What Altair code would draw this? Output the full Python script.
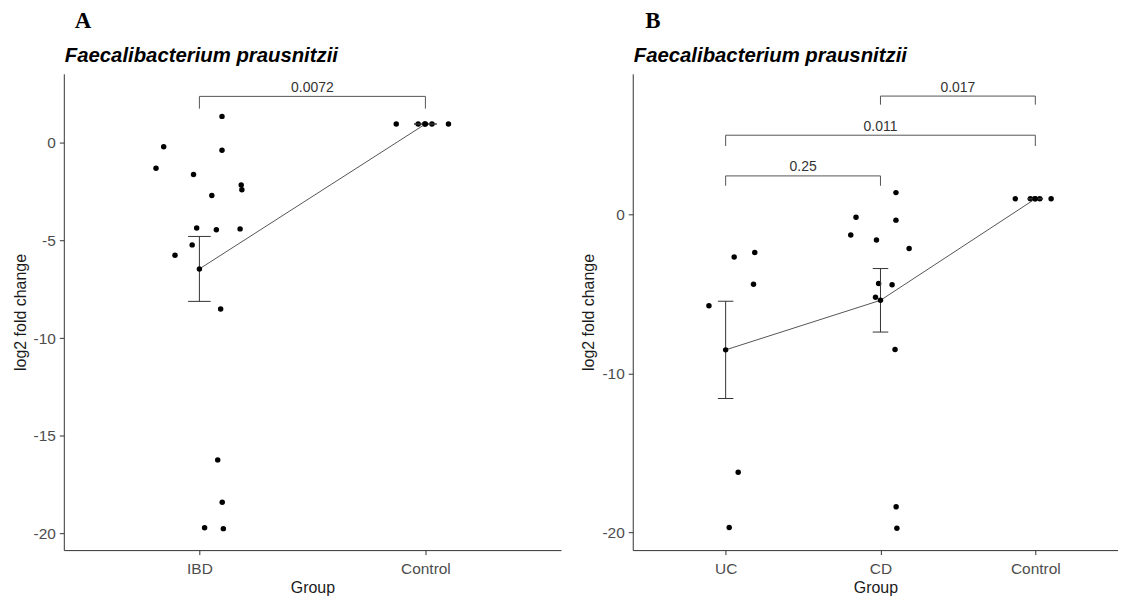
import altair as alt
import pandas as pd

# ---------------- data ----------------
cd_values = [1.36, -0.19, -0.37, -1.30, -1.62, -2.15, -4.36, -4.44, -5.22, -8.50, -18.40, -19.75]
cd_jitter = [0.100, -0.158, 0.100, -0.192, -0.026, 0.185, -0.012, 0.075, -0.032, 0.094, 0.101, 0.106]
uc_values = [-2.40, -2.69, -4.40, -5.75, -16.23, -19.70]
uc_jitter = [0.188, 0.055, 0.180, -0.108, 0.081, 0.023]
control_values = [0.97, 0.97, 0.97, 0.97, 0.97]
control_jitter = [-0.129, -0.032, -0.003, 0.029, 0.102]

groups_a = ["IBD", "Control"]
groups_b = ["UC", "CD", "Control"]

# p-value brackets
bracket_a_from = ["IBD"]
bracket_a_to = ["Control"]
bracket_a_label = ["0.0072"]
bracket_a_level = [2.385]
bracket_a_tip = [1.757]

bracket_b_from = ["UC", "UC", "CD"]
bracket_b_to = ["CD", "Control", "Control"]
bracket_b_label = ["0.25", "0.011", "0.017"]
bracket_b_level = [2.41, 4.97, 7.43]
bracket_b_tip = [1.79, 4.29, 6.89]

y_ticks_a = [-20, -15, -10, -5, 0]
y_ticks_b = [-20, -10, 0]

species = "Faecalibacterium prausnitzii"
FONT = "Liberation Sans"


def points_frame(assign):
    rows = []
    for name, vals, jit in assign:
        for v, j in zip(vals, jit):
            rows.append({"group": name, "value": v, "jit": j})
    return pd.DataFrame(rows)


df_a = points_frame([("IBD", cd_values, cd_jitter), ("IBD", uc_values, uc_jitter),
                     ("Control", control_values, control_jitter)])
df_a["pos"] = df_a["group"].map({g: i + 1 for i, g in enumerate(groups_a)})

df_b = points_frame([("UC", uc_values, uc_jitter), ("CD", cd_values, cd_jitter),
                     ("Control", control_values, control_jitter)])
df_b["pos"] = df_b["group"].map({g: i + 1 for i, g in enumerate(groups_b)})


def bracket_frame(cats, f, t, lab, lev, tip):
    d = pd.DataFrame({"from": f, "to": t, "label": lab, "level": lev, "tip": tip})
    d["x1"] = d["from"].map({g: i + 1 for i, g in enumerate(cats)})
    d["x2"] = d["to"].map({g: i + 1 for i, g in enumerate(cats)})
    d["xm"] = (d["x1"] + d["x2"]) / 2
    return d


br_a = bracket_frame(groups_a, bracket_a_from, bracket_a_to, bracket_a_label, bracket_a_level, bracket_a_tip)
br_b = bracket_frame(groups_b, bracket_b_from, bracket_b_to, bracket_b_label, bracket_b_level, bracket_b_tip)


def panel(df, br, cats, xmax, ydom, yticks, width, height, letter, letter_dx):
    xs = alt.Scale(domain=[0.4, xmax], nice=False, zero=False)
    ys = alt.Scale(domain=ydom, nice=False, zero=False)
    label_list = "[" + ",".join("'%s'" % c for c in cats) + "]"
    xaxis = alt.Axis(values=list(range(1, len(cats) + 1)), labelExpr=label_list + "[datum.value - 1]",
                     title="Group", grid=False, titlePadding=3, labelPadding=7)
    yaxis = alt.Axis(values=yticks, labelExpr="datum.value + ''", title="log2 fold change",
                     grid=False, titlePadding=5, labelPadding=4)

    def X(f):
        return alt.X(f, type="quantitative", scale=xs, axis=xaxis)

    def Y(f):
        return alt.Y(f, type="quantitative", scale=ys, axis=yaxis)

    base = alt.Chart(df)
    pts = base.mark_circle(size=30, color="black", opacity=1).transform_calculate(
        xj="datum.pos + datum.jit").encode(x=X("xj"), y=Y("value"))

    summ = base.transform_aggregate(
        mean="mean(value)", se="stderr(value)", groupby=["pos"]
    ).transform_calculate(
        lo="datum.mean - datum.se", hi="datum.mean + datum.se",
        xl="datum.pos - 0.05", xr="datum.pos + 0.05")

    ebar = summ.mark_rule(color="#333", strokeWidth=1).encode(x=X("pos"), y=Y("lo"), y2="hi:Q")
    cap_lo = summ.mark_rule(color="#333", strokeWidth=1).encode(x=X("xl"), x2="xr:Q", y=Y("lo"))
    cap_hi = summ.mark_rule(color="#333", strokeWidth=1).encode(x=X("xl"), x2="xr:Q", y=Y("hi"))
    mline = summ.mark_line(color="#555", strokeWidth=1).encode(x=X("pos"), y=Y("mean"))
    mpt = summ.mark_circle(size=30, color="black", opacity=1).encode(x=X("pos"), y=Y("mean"))

    bb = alt.Chart(br)
    b_h = bb.mark_rule(color="#555", strokeWidth=1).encode(x=X("x1"), x2="x2:Q", y=Y("level"))
    b_l = bb.mark_rule(color="#555", strokeWidth=1).encode(x=X("x1"), y=Y("tip"), y2="level:Q")
    b_r = bb.mark_rule(color="#555", strokeWidth=1).encode(x=X("x2"), y=Y("tip"), y2="level:Q")
    b_t = bb.mark_text(font=FONT, fontSize=14, color="#333", baseline="alphabetic", dy=-4.5).encode(
        x=X("xm"), y=Y("level"), text="label:N")

    ttl = alt.Chart(pd.DataFrame({"t": [species]})).mark_text(
        font=FONT, fontSize=20.4, fontStyle="italic", fontWeight="bold", color="black",
        align="left", baseline="alphabetic").encode(
        x=alt.value(1), y=alt.value(-11.6), text="t:N")
    let = alt.Chart(pd.DataFrame({"t": [letter]})).mark_text(
        font="Liberation Serif", fontSize=23, fontWeight="bold", color="black",
        align="left", baseline="alphabetic").encode(
        x=alt.value(letter_dx), y=alt.value(-46), text="t:N")

    return alt.layer(pts, ebar, cap_lo, cap_hi, mline, mpt, b_h, b_l, b_r, b_t, ttl, let).properties(
        width=width, height=height)


pa = panel(df_a, br_a, groups_a, 2.6, [-20.85, 3.54], y_ticks_a, 499, 478, "A", 11)
pb = panel(df_b, br_b, groups_b, 3.534, [-21.12, 8.83], y_ticks_b, 487, 478, "B", 12.6)

chart = alt.hconcat(pa, pb, spacing=20).properties(
    padding={"left": 4, "top": 1, "right": 0, "bottom": 0}
).configure_view(stroke=None).configure_axis(
    labelFont=FONT, labelFontSize=15.5, labelColor="#4d4d4d",
    titleFont=FONT, titleFontSize=16, titleColor="#1a1a1a", titleFontWeight="normal",
    domainColor="#333", tickColor="#333", tickSize=4.5, domainWidth=1, tickWidth=1
)

chart.save("out.html", embed_options={"renderer": "svg", "actions": False})
